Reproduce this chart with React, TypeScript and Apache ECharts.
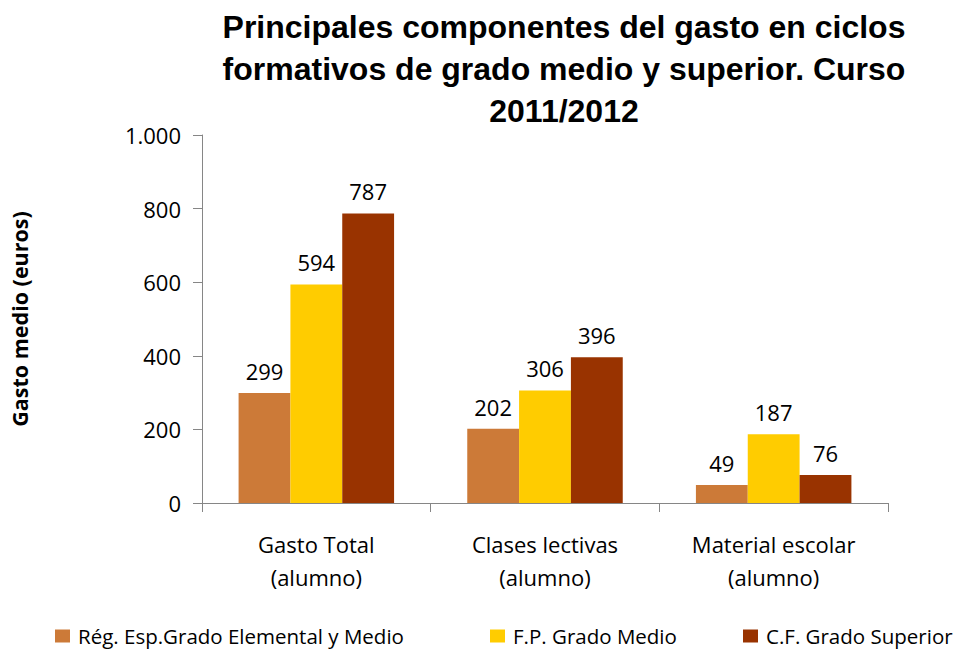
import React, { useEffect, useRef } from "react";
import * as echarts from "echarts";

const categories = ["Gasto Total\n(alumno)", "Clases lectivas\n(alumno)", "Material escolar\n(alumno)"];
const seriesNames = ["Rég. Esp.Grado Elemental y Medio", "F.P. Grado Medio", "C.F. Grado Superior"];
const regEsp = [299, 202, 49];
const fpMedio = [594, 306, 187];
const cfSuperior = [787, 396, 76];
const colors = ["#CC7A38", "#FFCC00", "#993300"];
const titleText = "Principales componentes del gasto en ciclos\nformativos de grado medio y superior. Curso\n2011/2012";
const yAxisName = "Gasto medio (euros)";

const FONT = "'Open Sans', 'Noto Sans', sans-serif";

export default function App() {
  const ref = useRef<HTMLDivElement>(null);
  useEffect(() => {
    if (!ref.current) return;
    const chart = echarts.init(ref.current, null, { renderer: "svg" });
    const values = [regEsp, fpMedio, cfSuperior];
    const legendLefts = [55, 490, 743];
    chart.setOption({
      animation: false,
      title: {
        text: titleText,
        left: 564,
        top: 6,
        padding: 0,
        textAlign: "center",
        textStyle: {
          fontFamily: "'Liberation Sans', Arial, sans-serif",
          fontWeight: "bold",
          fontSize: 32,
          lineHeight: 42,
          color: "#000",
        },
      },
      legend: seriesNames.map((n, i) => ({
        data: [n],
        left: legendLefts[i],
        top: 625,
        padding: 0,
        itemWidth: 15,
        itemHeight: 13,
        icon: "rect",
        itemGap: 8,
        textStyle: { fontFamily: FONT, fontSize: 20.5, lineHeight: 22, color: "#000", padding: [0, 0, 0, 3] },
      })),
      grid: { left: 199, right: 89, top: 135, bottom: 147, containLabel: false },
      xAxis: {
        type: "category",
        data: categories,
        axisLine: { lineStyle: { color: "#868686", width: 1 } },
        axisTick: { show: true, length: 9, lineStyle: { color: "#868686" }, alignWithLabel: false },
        axisLabel: {
          fontFamily: FONT,
          fontSize: 22,
          color: "#000",
          lineHeight: 33,
          margin: 24,
        },
      },
      yAxis: {
        type: "value",
        min: 0,
        max: 1000,
        interval: 200,
        name: yAxisName,
        nameLocation: "middle",
        nameGap: 172,
        nameRotate: 90,
        nameTextStyle: { fontFamily: FONT, fontWeight: "bold", fontSize: 21.5, color: "#000" },
        axisLine: { show: true, lineStyle: { color: "#868686", width: 1 } },
        axisTick: { show: true, length: 9, lineStyle: { color: "#868686" } },
        splitLine: { show: false },
        axisLabel: {
          fontFamily: FONT,
          fontSize: 22,
          color: "#000",
          margin: 21,
          formatter: (v: number) => (v >= 1000 ? v.toLocaleString("de-DE") : String(v)),
        },
      },
      series: seriesNames.map((n, i) => ({
        name: n,
        type: "bar",
        data: values[i],
        barGap: "0%",
        barCategoryGap: "32%",
        itemStyle: { color: colors[i] },
        label: {
          show: true,
          position: "top",
          distance: 11,
          fontFamily: FONT,
          fontSize: 22,
          color: "#000",
        },
      })),
    });
    return () => chart.dispose();
  }, []);
  return (
    <div
      ref={ref}
      style={{ position: "absolute", left: 0, top: 0, width: 977, height: 650 }}
    />
  );
}
